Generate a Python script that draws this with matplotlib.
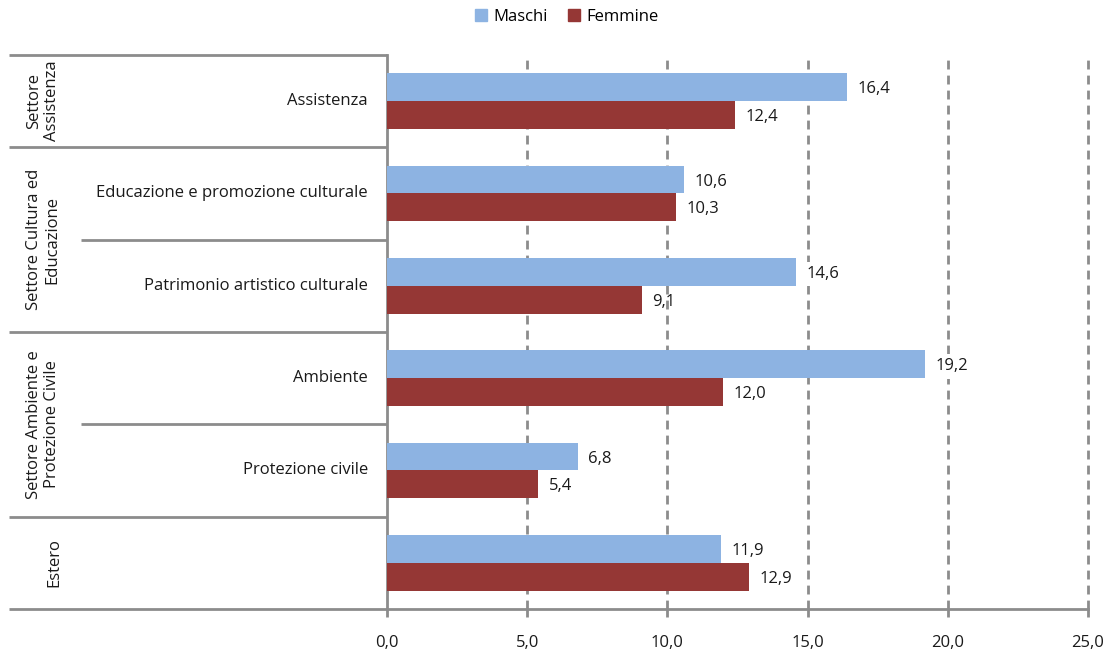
import numpy as np
import matplotlib

matplotlib.use("Agg")
import matplotlib.pyplot as plt  # noqa: E402
from matplotlib.patches import Patch  # noqa: E402
from matplotlib.transforms import blended_transform_factory  # noqa: E402

plt.rcParams["font.family"] = ["Open Sans", "DejaVu Sans"]

categories = [
    "Assistenza",
    "Educazione e promozione culturale",
    "Patrimonio artistico culturale",
    "Ambiente",
    "Protezione civile",
    "",
]
groups = [
    ("Settore\nAssistenza", 0, 0),
    ("Settore Cultura ed\nEducazione", 1, 2),
    ("Settore Ambiente e\nProtezione Civile", 3, 4),
    ("Estero", 5, 5),
]
maschi = [16.4, 10.6, 14.6, 19.2, 6.8, 11.9]
femmine = [12.4, 10.3, 9.1, 12.0, 5.4, 12.9]
x_ticks = [0, 5, 10, 15, 20, 25]

BLUE = "#8db3e2"
RED = "#953735"
GREY = "#8c8c8c"
TXT = "#1a1a1a"
FS = 12

W, H = 1110, 656
fig = plt.figure(figsize=(W / 100, H / 100), dpi=100)
ax = fig.add_axes([387 / W, 1 - 609 / H, (1088 - 387) / W, (609 - 55) / H])

y = np.arange(len(categories))
bh = 0.3
ax.barh(y - bh / 2, maschi, height=bh, color=BLUE, zorder=3)
ax.barh(y + bh / 2, femmine, height=bh, color=RED, zorder=3)

for yi, m, f in zip(y, maschi, femmine):
    ax.annotate(f"{m:.1f}".replace(".", ","), (m, yi - bh / 2), xytext=(7.5, -1.5),
                textcoords="offset points", va="center", ha="left",
                fontsize=FS, color=TXT, zorder=4,
                bbox=dict(boxstyle="square,pad=0.25", fc="white", ec="none"))
    ax.annotate(f"{f:.1f}".replace(".", ","), (f, yi + bh / 2), xytext=(7.5, -1.5),
                textcoords="offset points", va="center", ha="left",
                fontsize=FS, color=TXT, zorder=4)

ax.set_xlim(0, 25)
ax.set_ylim(len(categories) - 0.5, -0.5)
ax.set_xticks(x_ticks)
ax.set_xticklabels([f"{t:.1f}".replace(".", ",") for t in x_ticks],
                   fontsize=FS, color=TXT)
ax.tick_params(axis="x", length=6, width=2, color=GREY, pad=13)
ax.set_yticks([])
for t in x_ticks[1:]:
    ax.axvline(t, color=GREY, lw=2, ls=(0, (3.2, 2.2)), zorder=1, clip_on=False)

for s in ["top", "right"]:
    ax.spines[s].set_visible(False)
for s in ["left", "bottom"]:
    ax.spines[s].set_color(GREY)
    ax.spines[s].set_linewidth(2)

# category labels and the table-like block on the left
tr = blended_transform_factory(fig.transFigure, ax.transData)
for yi, name in zip(y, categories):
    ax.text(368 / W, yi, name, transform=tr, ha="right", va="center",
            fontsize=FS, color=TXT)

x_outer = 9 / W
x_inner = 81 / W
x_axis = 387 / W
for label, first, last in groups:
    ax.plot([x_outer, x_axis], [first - 0.5, first - 0.5], transform=tr,
            color=GREY, lw=2, clip_on=False, solid_capstyle="butt")
    for k in range(first, last):
        ax.plot([x_inner, x_axis], [k + 0.5, k + 0.5], transform=tr,
                color=GREY, lw=2, clip_on=False, solid_capstyle="butt")
    ax.text(43 / W if "\n" in label else 54 / W, (first + last) / 2, label,
            transform=tr, rotation=90, ha="center", va="center",
            fontsize=FS, color=TXT, linespacing=1.2, multialignment="center")
ax.plot([x_outer, x_axis], [len(categories) - 0.5] * 2, transform=tr,
        color=GREY, lw=2, clip_on=False, solid_capstyle="butt")

handles = [Patch(color=BLUE, label="Maschi"), Patch(color=RED, label="Femmine")]
fig.legend(handles=handles, loc="center", bbox_to_anchor=(567 / W, 1 - 17 / H),
           ncol=2, frameon=False, fontsize=FS, handlelength=0.7,
           handleheight=0.7, handletextpad=0.4, columnspacing=1.2)

fig.savefig("out.png", dpi=100, facecolor="white")
